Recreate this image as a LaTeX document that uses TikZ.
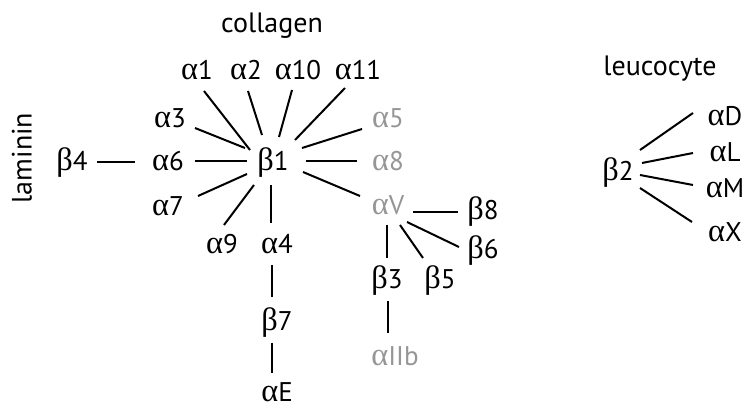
\documentclass[tikz,border=0pt]{standalone}
\usepackage{fontspec}
\setmainfont{PT Sans}
\newfontfamily\gr[Scale=1.2]{Liberation Serif}
\usetikzlibrary{calc}
\definecolor{faded}{RGB}{150,150,150}
\newcommand{\al}{{\gr α}}
\newcommand{\be}{{\gr β}}
\tikzset{
  grp/.style={inner sep=0pt, text height=19pt, text depth=0pt, font=\fontsize{28}{33}\selectfont},
  lbl/.style={inner sep=0pt, text height=18pt, text depth=0pt, font=\fontsize{27}{32}\selectfont},
  dim/.style={lbl, text=faded},
  link/.style={line width=2pt, black}
}
\begin{document}
\begin{tikzpicture}[x=1pt, y=-1pt]
\path[use as bounding box, fill=white] (0,0) rectangle (748,403);

% group labels
\node[grp] (collagen) at (272,23) {collagen};
\node[grp, rotate=90] (laminin) at (22,158) {laminin};
\node[grp] (leucocyte) at (660,66) {leucocyte};

% beta1 family
\node[lbl] (b1) at (273,162) {\be1};
\node[lbl] (a1) at (197,71) {\al1};
\node[lbl] (a2) at (246,71) {\al2};
\node[lbl] (a10) at (298,71) {\al10};
\node[lbl] (a11) at (358,71) {\al11};
\node[lbl] (a3) at (170,119) {\al3};
\node[dim] (a5) at (388,119) {\al5};
\node[lbl] (b4) at (72,162) {\be4};
\node[lbl] (a6) at (168,162) {\al6};
\node[dim] (a8) at (388,162) {\al8};
\node[lbl] (a7) at (168,207) {\al7};
\node[lbl] (a9) at (222,245) {\al9};
\node[lbl] (a4) at (277,245) {\al4};
\node[lbl] (b7) at (277,322) {\be7};
\node[lbl] (aE) at (277,393) {\al E};

% alphaV family
\node[dim] (aV) at (388,206) {\al V};
\node[lbl] (b8) at (483,211) {\be8};
\node[lbl] (b6) at (483,250) {\be6};
\node[lbl] (b3) at (387,280) {\be3};
\node[lbl] (b5) at (440,280) {\be5};
\node[dim] (aIIb) at (395,357) {\al IIb};

% beta2 family
\node[lbl] (b2) at (618,172) {\be2};
\node[lbl] (aD) at (725,117) {\al D};
\node[lbl] (aL) at (725,153) {\al L};
\node[lbl] (aM) at (725,189) {\al M};
\node[lbl] (aX) at (725,233) {\al X};

% connectors
\draw[link] ($(a1)+(7,20)$) -- ($(b1)+(-23,-12)$);
\draw[link] ($(a2)+(2,20)$) -- ($(b1)+(-11,-27)$);
\draw[link] ($(a10)+(-6,19)$) -- ($(b1)+(6,-25)$);
\draw[link] ($(a11)+(-13,17)$) -- ($(b1)+(22,-22)$);
\draw[link] ($(a3)+(25,9)$) -- ($(b1)+(-28,-14)$);
\draw[link] ($(a5)+(-26,10)$) -- ($(b1)+(29,-14)$);
\draw[link] ($(a6)+(27,-1)$) -- ($(b1)+(-26,-1)$);
\draw[link] ($(b4)+(25,0)$) -- ($(a6)+(-33,0)$);
\draw[link] ($(b1)+(33,-1)$) -- ($(a8)+(-31,-1)$);
\draw[link] ($(a7)+(30,-11)$) -- ($(b1)+(-26,12)$);
\draw[link] ($(a9)+(2,-20)$) -- ($(b1)+(-19,23)$);
\draw[link] ($(a4)+(-6,-22)$) -- ($(b1)+(-2,23)$);
\draw[link] ($(aV)+(-28,-10)$) -- ($(b1)+(30,10)$);
\draw[link] ($(a4)+(-5,20)$) -- ($(b7)+(-5,-25)$);
\draw[link] ($(b7)+(-5,21)$) -- ($(aE)+(-5,-20)$);

\draw[link] ($(aV)+(25,6)$) -- ($(b8)+(-25,1)$);
\draw[link] ($(aV)+(19,16)$) -- ($(b6)+(-24,-3)$);
\draw[link] ($(aV)+(12,19)$) -- ($(b5)+(-17,-22)$);
\draw[link] ($(aV)+(-1,19)$) -- ($(b3)+(0,-22)$);
\draw[link] ($(b3)+(1,21)$) -- ($(aIIb)+(-7,-24)$);

\draw[link] ($(b2)+(22,-22)$) -- ($(aD)+(-32,-4)$);
\draw[link] ($(b2)+(24,-9)$) -- ($(aL)+(-32,0)$);
\draw[link] ($(b2)+(22,3)$) -- ($(aM)+(-32,-4)$);
\draw[link] ($(b2)+(22,16)$) -- ($(aX)+(-33,-11)$);
\end{tikzpicture}
\end{document}
